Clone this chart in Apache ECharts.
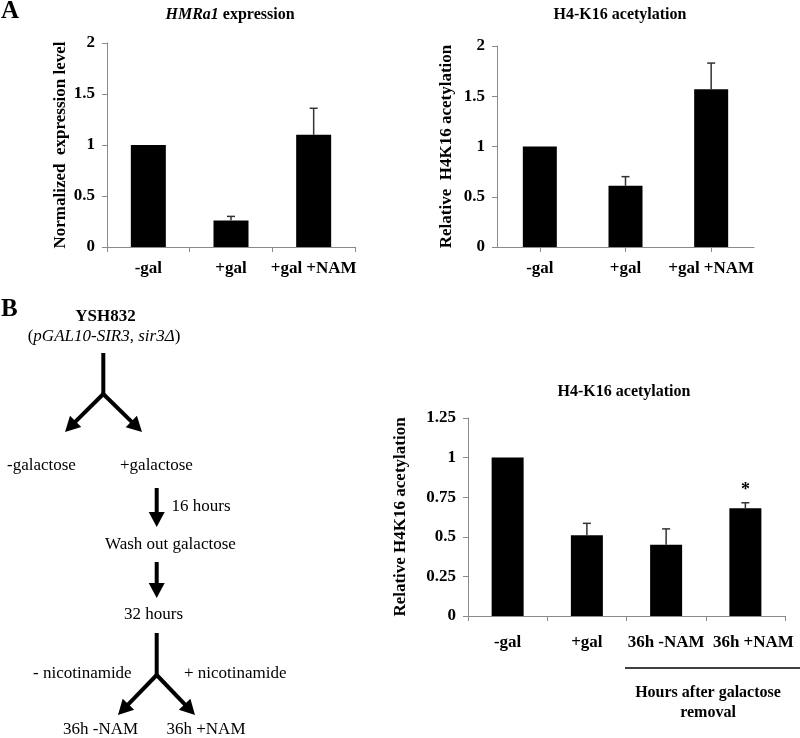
<!DOCTYPE html>
<html>
<head>
<meta charset="utf-8">
<script src="https://cdn.jsdelivr.net/npm/echarts@6/dist/echarts.min.js"></script>
<style>
  html, body { margin: 0; padding: 0; background: #fff; }
  #main { width: 800px; height: 738px; }
</style>
</head>
<body>
<div id="main"></div>
<script>
// panel A data
const catsA = ['-gal', '+gal', '+gal +NAM'];
const hmrValues = [1.0, 0.26, 1.10];
const hmrErr = [0, 0.04, 0.26];
const h4aValues = [1.0, 0.61, 1.57];
const h4aErr = [0, 0.09, 0.26];

// panel B data
const catsB = ['-gal', '+gal', '36h -NAM', '36h +NAM'];
const h4bValues = [1.0, 0.51, 0.45, 0.68];
const h4bErr = [0, 0.075, 0.10, 0.035];
const h4bMarks = ['', '', '', '*'];

const serif = '"Liberation Serif", "DejaVu Serif", serif';
const axisGray = '#8a8a8a';

const chart = echarts.init(document.getElementById('main'));

const xAxisBase = (idx, cats, align) => ({
  type: 'category',
  gridIndex: idx,
  // last label in panel B sits a bit right of its bar, like the original
  data: cats.map((c, i) => (idx === 2 && i === 3) ? { value: c, textStyle: { padding: [0, 0, 0, 16] } } : c),
  axisLine: { lineStyle: { color: axisGray, width: 1 } },
  axisTick: { show: true, alignWithLabel: align, length: 5, lineStyle: { color: axisGray } },
  axisLabel: { color: '#000', fontFamily: serif, fontWeight: 'bold', fontSize: 17, margin: idx === 2 ? 18 : 13, interval: 0 }
});

const yAxisBase = (idx, max, interval, name, gap) => ({
  type: 'value',
  gridIndex: idx,
  min: 0,
  max: max,
  interval: interval,
  name: name,
  nameLocation: 'middle',
  nameGap: gap,
  nameTextStyle: { color: '#000', fontFamily: serif, fontWeight: 'bold', fontSize: 17 },
  splitLine: { show: false },
  axisLine: { show: true, lineStyle: { color: axisGray, width: 1 } },
  axisTick: { show: true, length: 5, lineStyle: { color: axisGray } },
  axisLabel: { color: '#000', fontFamily: serif, fontWeight: 'bold', fontSize: 17, margin: 12 }
});

const barSeries = (idx, values, width) => ({
  type: 'bar',
  xAxisIndex: idx,
  yAxisIndex: idx,
  data: values,
  barWidth: width,
  itemStyle: { color: '#000' },
  z: 2
});

// upper-only error bars with a small cap, plus optional significance mark
const errSeries = (idx, values, errs, marks) => ({
  type: 'custom',
  xAxisIndex: idx,
  yAxisIndex: idx,
  z: 3,
  data: values.map((v, i) => [i, v, v + errs[i]]),
  renderItem: (params, api) => {
    const i = api.value(0);
    const base = api.coord([i, api.value(1)]);
    const top = api.coord([i, api.value(2)]);
    const children = [];
    if (api.value(2) > api.value(1)) {
      const st = { stroke: '#333', lineWidth: 1.5 };
      children.push({ type: 'line', shape: { x1: base[0], y1: base[1], x2: top[0], y2: top[1] }, style: st });
      children.push({ type: 'line', shape: { x1: top[0] - 4, y1: top[1], x2: top[0] + 4, y2: top[1] }, style: st });
    }
    if (marks && marks[params.dataIndex]) {
      children.push({
        type: 'text',
        style: { text: marks[params.dataIndex], x: top[0], y: top[1] - 3, align: 'center', verticalAlign: 'bottom',
                 font: 'bold 18px ' + serif, fill: '#000' }
      });
    }
    return { type: 'group', children: children };
  }
});

function text(str, x, y, opts) {
  opts = opts || {};
  return {
    type: 'text',
    x: x, y: y,
    style: Object.assign({
      text: str,
      fill: '#000',
      font: (opts.bold ? 'bold ' : '') + (opts.size || 17) + 'px ' + serif,
      align: opts.align || 'left',
      verticalAlign: 'middle'
    }, opts.style || {})
  };
}

function arrow(x1, y1, x2, y2) {
  const dx = x2 - x1, dy = y2 - y1, len = Math.hypot(dx, dy);
  const ux = dx / len, uy = dy / len, head = 15, half = 8;
  const bx = x2 - ux * head, by = y2 - uy * head;
  return [
    { type: 'line', shape: { x1: x1, y1: y1, x2: bx + ux, y2: by + uy }, style: { stroke: '#000', lineWidth: 4 } },
    { type: 'polygon', shape: { points: [[x2, y2], [bx - uy * half, by + ux * half], [bx + uy * half, by - ux * half]] },
      style: { fill: '#000' } }
  ];
}

function stem(x, y1, y2) {
  return { type: 'line', shape: { x1: x, y1: y1, x2: x, y2: y2 }, style: { stroke: '#000', lineWidth: 4 } };
}

const flow = [].concat(
  [stem(103.3, 353, 396)],
  arrow(103.3, 394, 65, 432),
  arrow(103.3, 394, 142, 432),
  arrow(156.7, 488, 156.7, 527),
  arrow(156.7, 562, 156.7, 598),
  [stem(156.7, 633, 677)],
  arrow(156.7, 675, 118, 715),
  arrow(156.7, 675, 195, 715)
);

const labels = [
  text('A', 1, 12, { bold: true, size: 25 }),
  text('B', 1, 310, { bold: true, size: 25 }),
  {
    type: 'text', x: 230, y: 15,
    style: {
      text: '{i|HMRa1} expression',
      font: 'bold 16px ' + serif, fill: '#000', align: 'center', verticalAlign: 'middle',
      rich: { i: { fontStyle: 'italic', fontWeight: 'bold', fontSize: 16, fontFamily: serif } }
    }
  },
  text('H4-K16 acetylation', 620, 15, { bold: true, size: 16, align: 'center' }),
  text('H4-K16 acetylation', 624, 392, { bold: true, size: 16, align: 'center' }),
  text('YSH832', 105.5, 317, { bold: true, align: 'center' }),
  {
    type: 'text', x: 104, y: 337,
    style: {
      text: '({i|pGAL10-SIR3}, {i|sir3Δ})',
      font: '17px ' + serif, fill: '#000', align: 'center', verticalAlign: 'middle',
      rich: { i: { fontStyle: 'italic', fontSize: 17, fontFamily: serif } }
    }
  },
  text('-galactose', 7, 466),
  text('+galactose', 120, 466),
  text('16 hours', 171.5, 507),
  text('Wash out galactose', 105, 545),
  text('32 hours', 124, 615),
  text('- nicotinamide', 33, 674),
  text('+ nicotinamide', 184, 674),
  text('36h -NAM', 63, 730),
  text('36h +NAM', 166.5, 730),
  { type: 'line', shape: { x1: 625, y1: 668, x2: 800, y2: 668 }, style: { stroke: '#000', lineWidth: 1.5 } },
  text('Hours after galactose', 708, 693, { bold: true, size: 16, align: 'center' }),
  text('removal', 708, 713, { bold: true, size: 16, align: 'center' })
];

chart.setOption({
  animation: false,
  backgroundColor: '#fff',
  grid: [
    { left: 107, top: 43, width: 248, height: 204 },
    { left: 497, top: 46, width: 257, height: 201 },
    { left: 468, top: 418, width: 317, height: 198 }
  ],
  xAxis: [
    xAxisBase(0, catsA, false),
    xAxisBase(1, catsA, true),
    xAxisBase(2, catsB, false)
  ],
  yAxis: [
    yAxisBase(0, 2, 0.5, 'Normalized  expression level', 38),
    yAxisBase(1, 2, 0.5, 'Relative  H4K16 acetylation', 42),
    yAxisBase(2, 1.25, 0.25, 'Relative H4K16 acetylation', 59)
  ],
  series: [
    barSeries(0, hmrValues, 35),
    errSeries(0, hmrValues, hmrErr),
    barSeries(1, h4aValues, 34),
    errSeries(1, h4aValues, h4aErr),
    barSeries(2, h4bValues, 32),
    errSeries(2, h4bValues, h4bErr, h4bMarks)
  ],
  graphic: flow.concat(labels)
});
</script>
</body>
</html>
